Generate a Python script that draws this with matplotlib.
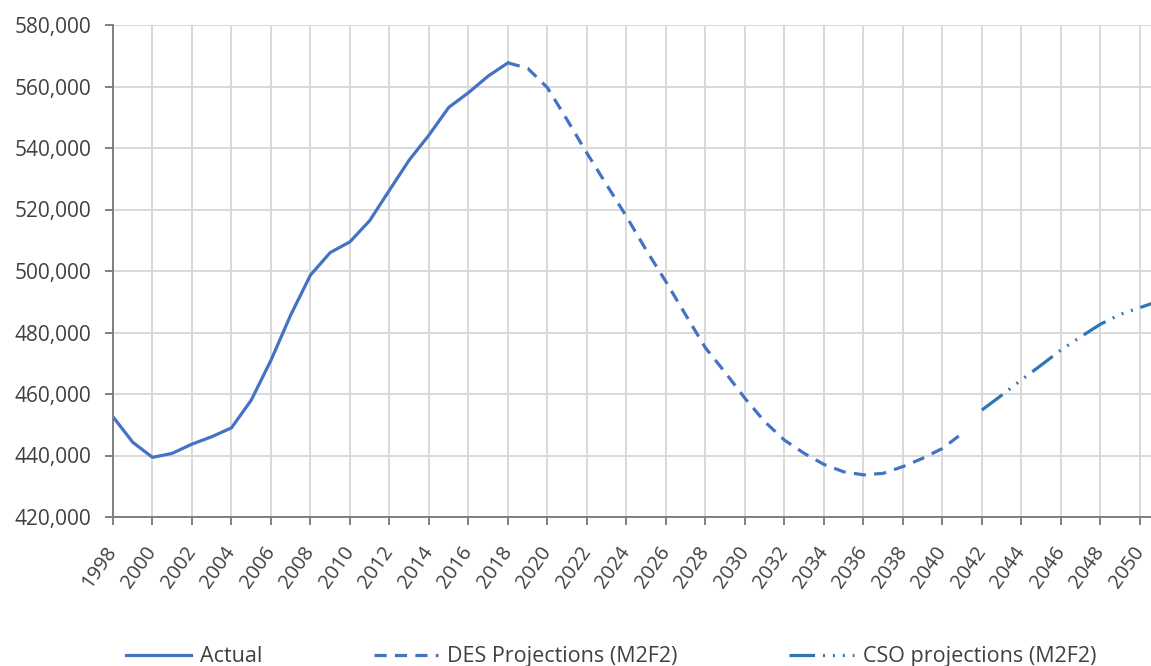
import matplotlib.pyplot as plt
from matplotlib.ticker import FuncFormatter, MultipleLocator

# data
actual_years = list(range(1998, 2019))
actual_vals = [452600, 444300, 439400, 440700, 443700, 446100, 449000, 458000,
               471000, 485700, 498700, 506000, 509500, 516400, 526300, 536100,
               544200, 553200, 558000, 563400, 567700]

des_years = list(range(2018, 2042))
des_vals = [567700, 565900, 559600, 549100, 538300, 528000, 517700, 506800,
            496500, 485700, 475000, 467000, 458600, 451000, 445000, 440700,
            437100, 434700, 433700, 434200, 436400, 439100, 442300, 447200]

cso_years = list(range(2042, 2052))
cso_vals = [454800, 459600, 464600, 469400, 474300, 478600, 482700, 485900,
            488100, 490300]

plt.rcParams['font.family'] = ['Open Sans', 'DejaVu Sans']

fig = plt.figure(figsize=(11.51, 6.66), dpi=100)
ax = fig.add_axes([113 / 1151, 1 - 517 / 666, 1 - 113 / 1151, (517 - 25) / 666])

blue = '#4472C4'
ax.plot(actual_years, actual_vals, color=blue, lw=2.3, label='Actual')
ax.plot(des_years, des_vals, color=blue, lw=2.3, linestyle=(0, (3.8, 2.6)),
        label='DES Projections (M2F2)')
ax.plot(cso_years, cso_vals, color='#2E75B6', lw=2.3,
        linestyle=(0, (8, 2.5, 0.6, 2.5, 0.6, 2.5, 0.6, 2.5)),
        label='CSO projections (M2F2)')

ax.set_xlim(1998, 2050.56)
ax.set_ylim(420000, 580000)
ax.xaxis.set_major_locator(MultipleLocator(2))
ax.yaxis.set_major_locator(MultipleLocator(20000))
ax.yaxis.set_major_formatter(FuncFormatter(lambda v, p: f'{int(v):,}'))

ax.grid(True, color='#D9D9D9', lw=1.4)
ax.set_axisbelow(True)
for s in ['top', 'right']:
    ax.spines[s].set_visible(False)
for s in ['left', 'bottom']:
    ax.spines[s].set_color('#7F7F7F')
    ax.spines[s].set_linewidth(1.4)
ax.tick_params(axis='both', colors='#7F7F7F', length=5.5, width=1.4,
               labelcolor='#404040')
ax.tick_params(axis='y', labelsize=15, pad=10)
ax.tick_params(axis='x', labelsize=14.5, pad=17)
plt.setp(ax.get_xticklabels(), rotation=55, ha='right', va='center',
         rotation_mode='anchor')

fig.legend(loc='center', bbox_to_anchor=(0.531, 0.014), ncol=3, frameon=False,
           fontsize=15.5, handlelength=3.0, columnspacing=5.2, handletextpad=0.4,
           labelcolor='#404040')

fig.savefig('out.png', dpi=100)
